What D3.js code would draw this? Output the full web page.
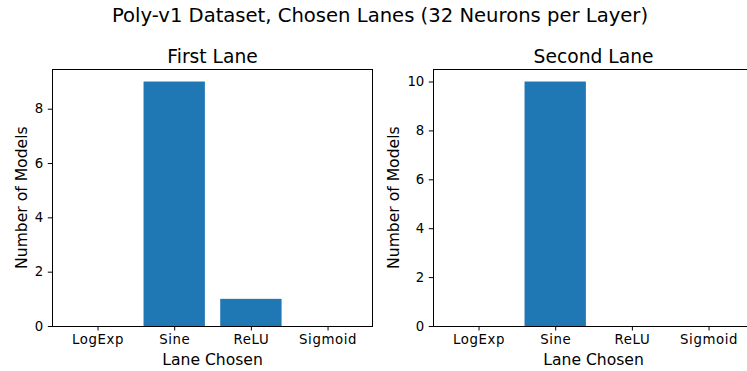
<!DOCTYPE html>
<html>
<head>
<meta charset="utf-8">
<script src="https://cdn.jsdelivr.net/npm/d3@7"></script>
<style>
  html, body { margin: 0; padding: 0; background: #fff; }
  svg { display: block; font-family: "DejaVu Sans", sans-serif; }
</style>
</head>
<body>
<svg id="chart" width="747" height="371"></svg>
<script>
// Lane activation choices and how many models picked each one
const lanes = ["LogExp", "Sine", "ReLU", "Sigmoid"];
const firstLaneCounts = [0, 9, 1, 0];
const secondLaneCounts = [0, 10, 0, 0];
const firstLaneTicks = [0, 2, 4, 6, 8];
const secondLaneTicks = [0, 2, 4, 6, 8, 10];

const figTitle = "Poly-v1 Dataset, Chosen Lanes (32 Neurons per Layer)";
const panels = [
  { title: "First Lane", values: firstLaneCounts, ticks: firstLaneTicks, left: 52.3 },
  { title: "Second Lane", values: secondLaneCounts, ticks: secondLaneTicks, left: 433.3 }
];

const svg = d3.select("#chart");
const axW = 320.5, axTop = 69.3, axBottom = 326;
const barColor = "#1f77b4";
const barWidth = 0.8;
const tickFont = 13.3, tickSpacing = "0.6px";

svg.append("text")
  .attr("x", 380).attr("y", 21.7)
  .attr("text-anchor", "middle")
  .attr("font-size", 19.6)
  .attr("fill", "#000")
  .text(figTitle);

panels.forEach(p => {
  const n = lanes.length;
  const lo = -barWidth / 2, hi = n - 1 + barWidth / 2;
  const pad = (hi - lo) * 0.05;
  const x = d3.scaleLinear().domain([lo - pad, hi + pad]).range([p.left, p.left + axW]);
  const yMax = d3.max(p.values) * 1.05;
  const y = d3.scaleLinear().domain([0, yMax]).range([axBottom, axTop]);

  const g = svg.append("g");

  // bars
  g.selectAll("rect.bar")
    .data(p.values)
    .join("rect")
    .attr("class", "bar")
    .attr("x", (d, i) => x(i - barWidth / 2))
    .attr("width", (d, i) => x(i + barWidth / 2) - x(i - barWidth / 2))
    .attr("y", d => y(d))
    .attr("height", d => y(0) - y(d))
    .attr("fill", barColor);

  // x axis
  const xAxis = d3.axisBottom(x)
    .tickValues(d3.range(n))
    .tickFormat(i => lanes[i])
    .tickSize(4.5).tickPadding(4.5);
  const gx = g.append("g").attr("transform", `translate(0,${axBottom})`).call(xAxis);
  gx.select(".domain").remove();
  gx.attr("font-family", "DejaVu Sans, sans-serif").attr("font-size", tickFont);
  gx.selectAll("line").attr("stroke", "#000").attr("stroke-width", 1);
  gx.selectAll("text").attr("fill", "#000").style("letter-spacing", tickSpacing);

  // y axis
  const yAxis = d3.axisLeft(y).tickValues(p.ticks).tickFormat(d3.format("d"))
    .tickSize(4.5).tickPadding(4.5);
  const gy = g.append("g").attr("transform", `translate(${p.left},0)`).call(yAxis);
  gy.select(".domain").remove();
  gy.attr("font-family", "DejaVu Sans, sans-serif").attr("font-size", tickFont);
  gy.selectAll("line").attr("stroke", "#000").attr("stroke-width", 1);
  gy.selectAll("text").attr("fill", "#000");

  // frame
  g.append("rect")
    .attr("x", p.left).attr("y", axTop)
    .attr("width", axW).attr("height", axBottom - axTop)
    .attr("fill", "none").attr("stroke", "#000").attr("stroke-width", 1)
    .attr("shape-rendering", "crispEdges");

  // titles and labels
  g.append("text")
    .attr("x", p.left + axW / 2).attr("y", 62.5)
    .attr("text-anchor", "middle").attr("font-size", 18.7).attr("fill", "#000")
    .text(p.title);

  g.append("text")
    .attr("x", p.left + axW / 2).attr("y", 365)
    .attr("text-anchor", "middle").attr("font-size", 15.6).attr("fill", "#000")
    .text("Lane Chosen");

  const labelX = p.left - (d3.max(p.ticks) >= 10 ? 34 : 25.5);
  g.append("text")
    .attr("transform", `translate(${labelX},${(axTop + axBottom) / 2}) rotate(-90)`)
    .attr("text-anchor", "middle").attr("font-size", 15.6).attr("fill", "#000")
    .text("Number of Models");
});
</script>
</body>
</html>
